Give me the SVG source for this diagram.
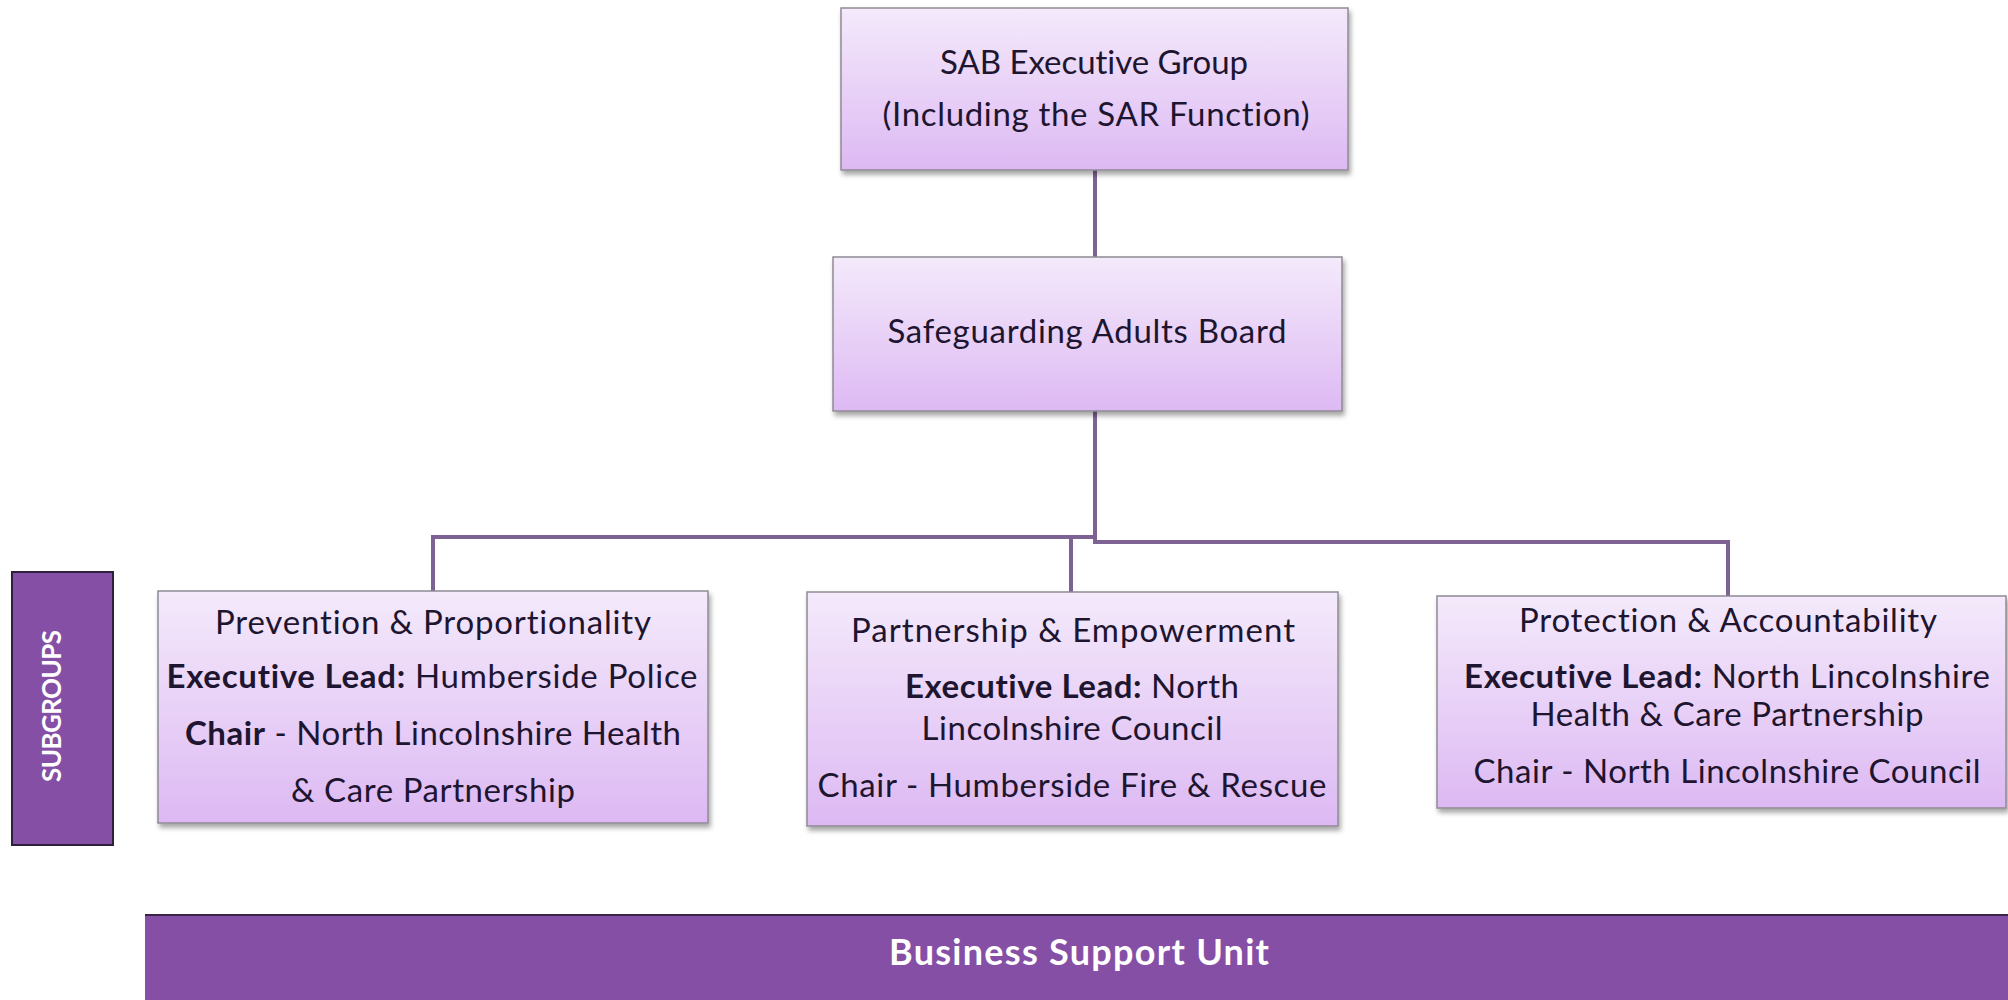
<svg xmlns="http://www.w3.org/2000/svg" width="2008" height="1000" viewBox="0 0 2008 1000">
<defs>
<linearGradient id="boxGrad" x1="0" y1="0" x2="0" y2="1">
<stop offset="0" stop-color="#f4eafb"/>
<stop offset="1" stop-color="#ddb9f3"/>
</linearGradient>
<filter id="shadow" x="-5%" y="-5%" width="115%" height="120%">
<feDropShadow dx="2" dy="4" stdDeviation="2.5" flood-color="#000" flood-opacity="0.35"/>
</filter>
<style>
.box{fill:url(#boxGrad);stroke:#8f8a94;stroke-width:1.5;filter:url(#shadow);}
.t{font-family:Lato,"Liberation Sans",sans-serif;font-size:33px;fill:#1e1530;text-anchor:middle;font-variant-ligatures:none;}
.b{font-weight:bold;}
.conn{fill:none;stroke:#7d6393;stroke-width:4;}
.band{fill:#844fa5;}
.wt{font-family:Lato,"Liberation Sans",sans-serif;font-weight:bold;fill:#ffffff;text-anchor:middle;font-variant-ligatures:none;}
</style>
</defs>
<rect width="2008" height="1000" fill="#ffffff"/>

<g id="connectors">
<line class="conn" x1="1095" y1="170" x2="1095" y2="257"/>
<polyline class="conn" points="1095,411 1095,542 1728,542 1728,596"/>
<polyline class="conn" points="1095,537 433,537 433,591"/>
<line class="conn" x1="1071" y1="537" x2="1071" y2="592"/>
</g>

<g id="sab-executive-group">
<rect class="box" x="841" y="8" width="507" height="162"/>
<text class="t" x="1094" y="74" textLength="308">SAB Executive Group</text>
<text class="t" x="1096" y="126" textLength="427">(Including the SAR Function)</text>
</g>

<g id="safeguarding-adults-board">
<rect class="box" x="833" y="257" width="509" height="154"/>
<text class="t" x="1087" y="343" textLength="399">Safeguarding Adults Board</text>
</g>

<g id="subgroups-label">
<rect x="12" y="572" width="101" height="273" fill="#844fa5" stroke="#2e1f3a" stroke-width="2"/>
<text class="wt" font-size="26" transform="translate(61,706) rotate(-90)" textLength="152">SUBGROUPS</text>
</g>

<g id="prevention">
<rect class="box" x="158" y="591" width="550" height="232"/>
<text class="t" x="433" y="634" textLength="436">Prevention &amp; Proportionality</text>
<text class="t" x="432" y="688" textLength="531"><tspan class="b">Executive Lead:</tspan> Humberside Police</text>
<text class="t" x="433" y="745" textLength="496"><tspan class="b">Chair</tspan> - North Lincolnshire Health</text>
<text class="t" x="433" y="802" textLength="284">&amp; Care Partnership</text>
</g>

<g id="partnership">
<rect class="box" x="807" y="592" width="531" height="234"/>
<text class="t" x="1073" y="642" textLength="444">Partnership &amp; Empowerment</text>
<text class="t" x="1072" y="698" textLength="334"><tspan class="b">Executive Lead:</tspan> North</text>
<text class="t" x="1072" y="740" textLength="301">Lincolnshire Council</text>
<text class="t" x="1072" y="797" textLength="509">Chair - Humberside Fire &amp; Rescue</text>
</g>

<g id="protection">
<rect class="box" x="1437" y="596" width="569" height="212"/>
<text class="t" x="1728" y="632" textLength="418">Protection &amp; Accountability</text>
<text class="t" x="1727" y="688" textLength="526"><tspan class="b">Executive Lead:</tspan> North Lincolnshire</text>
<text class="t" x="1727" y="726" textLength="393">Health &amp; Care Partnership</text>
<text class="t" x="1727" y="783" textLength="507">Chair - North Lincolnshire Council</text>
</g>

<g id="business-support-unit">
<rect class="band" x="145" y="915" width="1863" height="85"/>
<line x1="145" y1="915" x2="2008" y2="915" stroke="#3a2548" stroke-width="2"/>
<text class="wt" font-size="36" x="1079" y="965" textLength="380">Business Support Unit</text>
</g>
</svg>
